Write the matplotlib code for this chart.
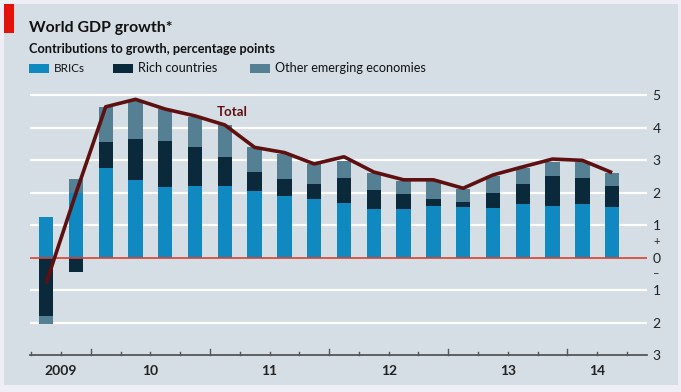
import matplotlib
matplotlib.use("Agg")
import matplotlib.pyplot as plt
from matplotlib.patches import Rectangle
from matplotlib import font_manager
import numpy as np

# ---- data (percentage points) ----
brics = [1.26, 1.98, 2.76, 2.38, 2.19, 2.22, 2.22, 2.05, 1.90, 1.82,
         1.68, 1.50, 1.49, 1.60, 1.57, 1.54, 1.65, 1.58, 1.65, 1.55]
rich = [-1.80, -0.45, 0.82, 1.28, 1.42, 1.18, 0.87, 0.58, 0.53, 0.46,
        0.77, 0.59, 0.46, 0.20, 0.16, 0.44, 0.63, 0.94, 0.80, 0.66]
other = [-0.25, 0.45, 1.07, 1.17, 0.97, 0.95, 1.00, 0.77, 0.77, 0.61,
         0.53, 0.53, 0.42, 0.56, 0.39, 0.55, 0.47, 0.42, 0.49, 0.41]
total = [-0.79, 1.98, 4.65, 4.88, 4.58, 4.37, 4.09, 3.40, 3.24, 2.89,
         3.11, 2.64, 2.40, 2.40, 2.14, 2.55, 2.80, 3.04, 3.00, 2.62]
year_labels = ["2009", "10", "11", "12", "13", "14"]
year_label_pos = [0.5, 3.5, 7.5, 11.5, 15.5, 18.5]
ytick_vals = [5, 4, 3, 2, 1, 0, -1, -2, -3]
ytick_text = ["5", "4", "3", "2", "1", "0", "1", "2", "3"]

C_BRICS = "#1088c0"
C_RICH = "#0a2a3b"
C_OTHER = "#557f92"
C_LINE = "#5e1010"
C_BG = "#d5dee5"
C_ZERO = "#d9412f"

W, H = 681, 392
fig = plt.figure(figsize=(W / 100, H / 100), dpi=100)
fig.patch.set_facecolor("#efeef6")
fig.patches.append(Rectangle((4 / W, 1 - 385 / H), (678 - 4) / W, (385 - 4) / H,
                             transform=fig.transFigure, facecolor=C_BG,
                             edgecolor="none", zorder=-10))
fig.patches.append(Rectangle((4 / W, 1 - 33 / H), 10 / W, 29 / H,
                             transform=fig.transFigure, facecolor="#e3120b",
                             edgecolor="none", zorder=-5))

FONT = ["Lato", "DejaVu Sans"]
names = {f.name for f in font_manager.fontManager.ttflist}
HEAD = ["Liberation Sans Narrow", "Lato", "DejaVu Sans"] if "Liberation Sans Narrow" in names else FONT
renderer = fig.canvas.get_renderer()


def fit_text(t, target_px):
    bb = t.get_window_extent(renderer=renderer)
    t.set_fontsize(t.get_fontsize() * target_px / bb.width)


t1 = fig.text(29 / W, 1 - 28 / H, "World GDP growth*", fontsize=13.5, fontweight="bold",
              family=HEAD, color="#111111", va="center", ha="left")
fit_text(t1, 143)
t2 = fig.text(29 / W, 1 - 49 / H, "Contributions to growth, percentage points", fontsize=9.5,
              fontweight="bold", family=HEAD, color="#111111", va="center", ha="left")
fit_text(t2, 248)

legend_items = [("BRICs", C_BRICS, 29, 31), ("Rich countries", C_RICH, 113, 80),
                ("Other emerging economies", C_OTHER, 250, 151)]
for name, col, x0, wpx in legend_items:
    fig.patches.append(Rectangle((x0 / W, 1 - 73 / H), 20 / W, 9 / H,
                                 transform=fig.transFigure, facecolor=col,
                                 edgecolor="none", zorder=2))
    tl = fig.text((x0 + 25) / W, 1 - 68.5 / H, name, fontsize=9.5, family=HEAD,
                  color="#111111", va="center", ha="left")
    fit_text(tl, wpx)

# axes: x from px 30 to 647, y from -3 (px 355) to 5.3 (px 85.7)
y0px, unit = 257.7, 32.45
ybot, ytop = -3, 5.3
ax = fig.add_axes([30 / W, (H - (y0px - ybot * unit)) / H, 617 / W,
                   ((ytop - ybot) * unit) / H])
ax.set_zorder(5)
ax.set_facecolor("none")
ax.set_xlim(-0.54, 20.17)
ax.set_ylim(ybot, ytop)
for s in ax.spines.values():
    s.set_visible(False)

x = np.arange(len(brics))
brics_a = np.array(brics)
rich_a = np.array(rich)
other_a = np.array(other)

for yv in [5, 4, 3, 2, 1, -1, -2]:
    ax.axhline(yv, color="white", lw=1.6, zorder=1)

bw = 0.48
pos_base = np.zeros(len(x))
neg_base = np.zeros(len(x))
for vals, col in [(brics_a, C_BRICS), (rich_a, C_RICH), (other_a, C_OTHER)]:
    bottoms = np.where(vals >= 0, pos_base, neg_base)
    ax.bar(x, vals, bw, bottom=bottoms, color=col, zorder=2, linewidth=0)
    pos_base = pos_base + np.where(vals >= 0, vals, 0)
    neg_base = neg_base + np.where(vals < 0, vals, 0)

ax.axhline(0, color=C_ZERO, lw=1.2, zorder=3)
ax.plot(x, total, color=C_LINE, lw=2.6, zorder=4, solid_joinstyle="round",
        solid_capstyle="butt")
ax.text(6.24, 4.5, "Total", fontsize=9.5, fontweight="bold", family=FONT,
        color=C_LINE, ha="center", va="center", zorder=5)

# bottom axis line with ticks
ax.axhline(-3, color="#555555", lw=1.3, zorder=3, clip_on=False)
ax.set_xticks([])
for t in np.arange(-0.5, 20, 1.0):
    major = (t - 1.5) % 4 == 0
    ax.plot([t, t], [-3, -3 + (0.19 if major else 0.1)], color="#555555",
            lw=1.0, zorder=3, clip_on=False)
for pos, lab in zip(year_label_pos, year_labels):
    ax.text(pos, -3.5, lab, fontsize=10, family=FONT, fontweight="bold",
            color="#222222", ha="center", va="center", clip_on=False)

# right tick labels
ax.yaxis.tick_right()
ax.set_yticks(ytick_vals)
ax.set_yticklabels(ytick_text, family=FONT, fontsize=10, color="#222222")
ax.tick_params(axis="y", length=0, pad=4)
for yv, s in [(0.5, "+"), (-0.5, "\u2013")]:
    ax.text(1.0 + 6 / 617, yv, s, transform=ax.get_yaxis_transform(), fontsize=8,
            family=FONT, color="#222222", ha="left", va="center")

fig.savefig("out.png", dpi=100, facecolor=fig.get_facecolor())
